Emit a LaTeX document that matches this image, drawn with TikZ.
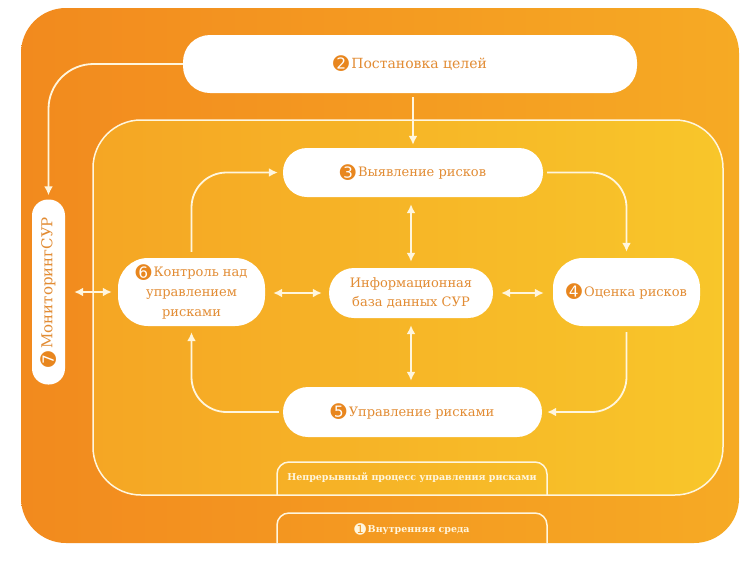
\documentclass[tikz,border=0pt]{standalone}
\usepackage{fontspec}
\setmainfont{DejaVu Serif}
\newfontfamily\dvs{DejaVu Sans}
\usetikzlibrary{arrows.meta}
\definecolor{outerL}{RGB}{242,138,30}
\definecolor{outerR}{RGB}{246,170,36}
\definecolor{innerL}{RGB}{245,166,36}
\definecolor{innerR}{RGB}{248,198,42}
\definecolor{txt}{RGB}{226,140,52}
\definecolor{numc}{RGB}{232,134,30}
\definecolor{cream}{RGB}{255,246,222}
\newcommand\nb[2][numc]{\raisebox{-0.2em}{\fontsize{19}{19}\dvs\textcolor{#1}{#2}}}
\newcommand\nbs[2][numc]{\raisebox{-0.15em}{\fontsize{14}{14}\dvs\textcolor{#1}{#2}}}
\begin{document}
\begin{tikzpicture}[x=1pt,y=-1pt,
  box/.style={fill=white, text=txt, inner sep=2pt, align=center},
  conn/.style={draw=cream, line width=1.8pt, -{Latex[length=9pt,width=9pt]}},
  dconn/.style={draw=cream, line width=1.8pt, {Latex[length=9pt,width=9pt]}-{Latex[length=9pt,width=9pt]}},
  frame/.style={draw=cream, line width=1.5pt},
  tabtext/.style={text=cream, font=\bfseries\fontsize{9.5}{11}\selectfont}]
\useasboundingbox (0,0) rectangle (741,563);
\fill[white] (0,0) rectangle (741,563);
% outer area
\shade[left color=outerL, right color=outerR, rounded corners=45] (21,8) rectangle (739,543);
% inner area
\shade[left color=innerL, right color=innerR, rounded corners=48] (93,120) rectangle (723,495);
\draw[frame, rounded corners=48] (93,120) rectangle (723,495);
% tabs
\draw[frame, rounded corners=12] (277,495) -- (277,462) -- (547,462) -- (547,495);
\draw[frame, rounded corners=12] (277,543) -- (277,513) -- (547,513) -- (547,543);
\node[tabtext] (t1) at (412,478) {Непрерывный процесс управления рисками};
\node[tabtext] (t2) at (412,529) {\nbs[cream]{➊}\,Внутренняя среда};
% boxes
\node[box, minimum width=454, minimum height=58, rounded corners=27, font=\fontsize{14}{16}\selectfont] (b2) at (410,64) {\nb{➋}\,Постановка целей};
\node[box, minimum width=260, minimum height=49, rounded corners=24, font=\fontsize{13}{15}\selectfont] (b3) at (413,172.5) {\nb{➌}\,Выявление рисков};
\node[box, minimum width=147, minimum height=68, rounded corners=30, font=\fontsize{13}{20}\selectfont] (b6) at (191.5,292) {\nb{➏}\,Контроль над\\управлением\\рисками};
\node[box, minimum width=164, minimum height=50, rounded corners=25, font=\fontsize{13}{19}\selectfont] (db) at (411,293) {Информационная\\база данных СУР};
\node[box, minimum width=147, minimum height=68, rounded corners=30, font=\fontsize{13}{15}\selectfont] (b4) at (626.5,292) {\nb{➍}\,Оценка рисков};
\node[box, minimum width=259, minimum height=50, rounded corners=25, font=\fontsize{13}{15}\selectfont] (b5) at (412.5,412) {\nb{➎}\,Управление рисками};
\node[box, minimum width=33, minimum height=185, rounded corners=16] (mon) at (48.5,292) {};
\node[text=txt, rotate=90, font=\fontsize{15}{17}\selectfont] (mont) at (mon.center) {\nb{➐}\,МониторингСУР};
% connectors
\draw[conn, rounded corners=45, shorten >=4pt] (b2.west) -| (mon.north);
\draw[conn, shorten <=4pt, shorten >=3pt] (b3.north |- b2.south) -- (b3.north);
\draw[dconn, shorten <=7pt, shorten >=6pt] (b3.south -| db.north) -- (db.north);
\draw[dconn, shorten <=7pt, shorten >=6pt] (db.south) -- (db.south |- b5.north);
\draw[dconn, shorten <=8pt, shorten >=7pt] (b6.east |- db.west) -- (db.west);
\draw[dconn, shorten <=8pt, shorten >=9pt] (db.east) -- (db.east -| b4.west);
\draw[dconn, shorten <=9pt, shorten >=6pt] (mon.east |- b6.west) -- (b6.west);
\draw[conn, rounded corners=35, shorten <=4pt, shorten >=6pt] (b3.east) -| (b4.north);
\draw[conn, rounded corners=35, shorten <=6pt, shorten >=5pt] (b4.south) |- (b5.east);
\draw[conn, rounded corners=35, shorten <=4pt, shorten >=6pt] (b5.west) -| (b6.south);
\draw[conn, rounded corners=35, shorten <=6pt, shorten >=5pt] (b6.north) |- (b3.west);
\end{tikzpicture}
\end{document}
